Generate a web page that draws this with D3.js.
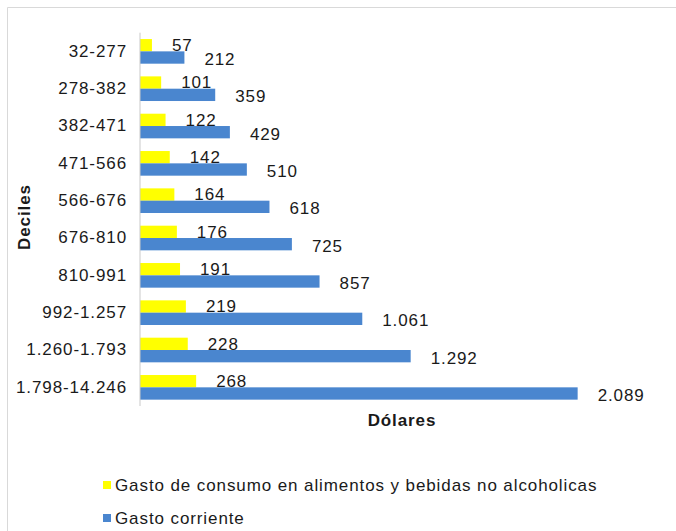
<!DOCTYPE html>
<html>
<head>
<meta charset="utf-8">
<script src="https://cdn.jsdelivr.net/npm/d3@7"></script>
<style>
  html, body { margin: 0; padding: 0; background: #fff; }
  svg { display: block; }
  text { font-family: "Liberation Sans", Arial, sans-serif; fill: #1a1a1a; letter-spacing: 0.9px; }
</style>
</head>
<body>
<svg id="chart" width="676" height="531"></svg>
<script>
const categories = ["32-277","278-382","382-471","471-566","566-676","676-810","810-991","992-1.257","1.260-1.793","1.798-14.246"];
const alimentos = [57,101,122,142,164,176,191,219,228,268];
const corriente = [212,359,429,510,618,725,857,1061,1292,2089];
const seriesNames = ["Gasto de consumo en alimentos y bebidas no alcoholicas", "Gasto corriente"];
const xAxisTitle = "Dólares";
const yAxisTitle = "Deciles";

const colors = ["#ffff00", "#4a86cf"];
const series = [alimentos, corriente];

const svg = d3.select("#chart");
const fmt = d3.formatLocale({decimal: ",", thousands: ".", grouping: [3], currency: ["$", ""]}).format(",d");

// outer border (top & left visible)
svg.append("path")
  .attr("d", "M7.5,531 L7.5,7.5 L676,7.5")
  .attr("fill", "none").attr("stroke", "#d9d9d9").attr("stroke-width", 1);

const x = d3.scaleLinear().domain([0, 2500]).range([140, 663.75]);
const y = d3.scaleBand().domain(categories).range([32.7, 406]).paddingInner(0.34).paddingOuter(0.17);
const ySub = d3.scaleBand().domain([0, 1]).range([0, y.bandwidth()]);

const fs = 17;

// bars
series.forEach((vals, si) => {
  const g = svg.append("g");
  g.selectAll("rect").data(vals).join("rect")
    .attr("x", x(0))
    .attr("y", (d, i) => y(categories[i]) + ySub(si))
    .attr("width", d => x(d) - x(0))
    .attr("height", ySub.bandwidth())
    .attr("fill", colors[si]);
  g.selectAll("text").data(vals).join("text")
    .attr("x", d => x(d) + 20)
    .attr("y", (d, i) => y(categories[i]) + ySub(si) + ySub.bandwidth() / 2 + (si === 1 ? 1.5 : 0))
    .attr("dy", "0.35em")
    .attr("font-size", fs)
    .text(d => fmt(d));
});

// y axis (line + labels)
const yAxis = d3.axisLeft(y).tickSize(0).tickPadding(13);
const ya = svg.append("g").attr("transform", `translate(${x(0)},0)`).call(yAxis);
ya.select(".domain").attr("stroke", "#c9c9c9").attr("d", `M0,${y.range()[0]}V${y.range()[1]}`);
ya.selectAll("text").attr("font-size", fs).attr("font-family", "Liberation Sans, Arial, sans-serif").attr("fill", "#1a1a1a");

// axis titles
svg.append("text")
  .attr("x", 402).attr("y", 420).attr("dy", "0.35em")
  .attr("text-anchor", "middle").attr("font-size", fs).attr("font-weight", "bold")
  .text(xAxisTitle);
svg.append("text")
  .attr("transform", "translate(24,217) rotate(-90)")
  .attr("dy", "0.35em")
  .attr("text-anchor", "middle").attr("font-size", fs).attr("font-weight", "bold")
  .text(yAxisTitle);

// legend
const legend = svg.append("g");
seriesNames.forEach((name, i) => {
  const ly = 485 + i * 33;
  legend.append("rect").attr("x", 103).attr("y", ly - 4).attr("width", 8).attr("height", 8).attr("fill", colors[i]);
  legend.append("text").attr("x", 115).attr("y", ly).attr("dy", "0.35em").attr("font-size", fs).text(name);
});
</script>
</body>
</html>
